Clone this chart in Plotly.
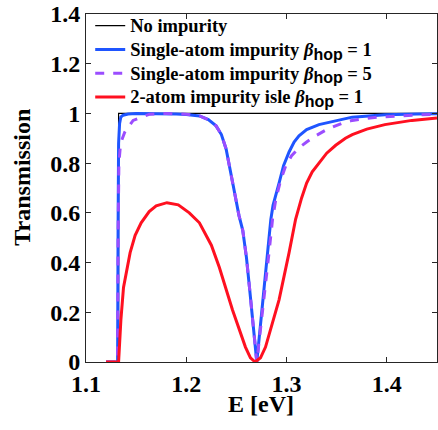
import plotly.graph_objects as go

# ---- data ----
E_none = [1.12, 1.1325, 1.1325, 1.45]
T_none = [0.0, 0.0, 1.0, 1.0]

E_single1 = [1.12, 1.1315, 1.132, 1.1325, 1.1335, 1.1347, 1.137, 1.142, 1.15, 1.17, 1.19, 1.2,
             1.2132, 1.222, 1.2297, 1.235, 1.2397, 1.2463, 1.2525, 1.2563, 1.26, 1.263, 1.2665,
             1.2703, 1.274, 1.2777, 1.281, 1.2843, 1.2865, 1.2895, 1.2925, 1.297, 1.3025,
             1.3075, 1.3124, 1.32, 1.3323, 1.3655, 1.398, 1.43, 1.45]
T_single1 = [0.0, 0.0, 0.55, 0.88, 0.96, 0.985, 0.993, 0.998, 1.0, 1.0, 0.998, 0.996,
             0.99, 0.975, 0.95, 0.915, 0.857, 0.72, 0.59, 0.53, 0.42, 0.30, 0.16,
             0.0, 0.15, 0.30, 0.44, 0.574, 0.63, 0.68, 0.72, 0.79, 0.845,
             0.885, 0.91, 0.935, 0.955, 0.985, 0.995, 0.998, 0.999]

E_single5 = [1.12, 1.1315, 1.132, 1.1328, 1.1345, 1.1387, 1.147, 1.1636, 1.18, 1.2,
             1.2132, 1.222, 1.2297, 1.235, 1.2397, 1.2463, 1.2525, 1.2563, 1.26, 1.263, 1.2665,
             1.2703, 1.2745, 1.2789, 1.2825, 1.286, 1.2893, 1.294, 1.2992, 1.305, 1.3124,
             1.32, 1.329, 1.34, 1.355, 1.3655, 1.39, 1.43, 1.45]
T_single5 = [0.0, 0.0, 0.5, 0.80, 0.88, 0.925, 0.972, 0.997, 1.0, 0.997,
             0.99, 0.975, 0.95, 0.915, 0.857, 0.72, 0.59, 0.53, 0.42, 0.30, 0.16,
             0.0, 0.15, 0.30, 0.44, 0.574, 0.655, 0.73, 0.79, 0.83, 0.862,
             0.885, 0.91, 0.935, 0.96, 0.972, 0.985, 0.994, 0.996]

E_isle = [1.12, 1.1325, 1.1348, 1.1374, 1.144, 1.149, 1.155, 1.163, 1.17, 1.1807, 1.192,
          1.203, 1.2131, 1.225, 1.233, 1.2461, 1.259, 1.264, 1.2687, 1.274, 1.279,
          1.2925, 1.3025, 1.309, 1.315, 1.32, 1.3256, 1.3323, 1.34, 1.349, 1.3587,
          1.3655, 1.38, 1.398, 1.425, 1.45]
T_isle = [0.0, 0.0, 0.17, 0.30, 0.44, 0.51, 0.56, 0.605, 0.628, 0.641, 0.632,
          0.60, 0.56, 0.47, 0.38, 0.209, 0.06, 0.017, 0.0, 0.017, 0.06,
          0.25, 0.44, 0.574, 0.66, 0.72, 0.765, 0.80, 0.84, 0.872, 0.90,
          0.915, 0.937, 0.955, 0.972, 0.982]

x_ticks = [1.1, 1.2, 1.3, 1.4]
x_tick_labels = ["1.1", "1.2", "1.3", "1.4"]
y_ticks = [0, 0.2, 0.4, 0.6, 0.8, 1.0, 1.2, 1.4]
y_tick_labels = ["0", "0.2", "0.4", "0.6", "0.8", "1", "1.2", "1.4"]

SUB = ("<sub><span style='font-family:Liberation Sans, Arial; font-weight:bold; "
       "font-size:16px'>hop</span></sub>")
legend_texts = [
    "No impurity",
    "Single-atom impurity <i>β</i>" + SUB + " = 1",
    "Single-atom impurity <i>β</i>" + SUB + " = 5",
    "2-atom impurity isle <i>β</i>" + SUB + " = 1",
]
names = ["<span style='font-size:18.5px'>" + t + "</span>" for t in legend_texts]

SERIF = "Liberation Serif, Times New Roman, serif"

fig = go.Figure()
fig.add_trace(go.Scatter(x=E_none, y=T_none, mode="lines", name=names[0],
                         line=dict(color="black", width=1.2)))
fig.add_trace(go.Scatter(x=E_single1, y=T_single1, mode="lines", name=names[1],
                         line=dict(color="#1f55ff", width=3)))
fig.add_trace(go.Scatter(x=E_single5, y=T_single5, mode="lines", name=names[2],
                         line=dict(color="#9b4dff", width=3, dash="dash")))
fig.add_trace(go.Scatter(x=E_isle, y=T_isle, mode="lines", name=names[3],
                         line=dict(color="#ff1020", width=3)))

axis_common = dict(showline=True, linecolor="#262626", linewidth=1, mirror="ticks",
                   ticks="inside", ticklen=5, tickcolor="#262626", showgrid=False,
                   zeroline=False,
                   tickfont=dict(family=SERIF, size=24, color="black", weight="bold"))

fig.update_layout(
    width=438, height=430,
    margin=dict(l=86, r=1, t=14, b=68),
    paper_bgcolor="white", plot_bgcolor="white",
    showlegend=True,
    legend=dict(x=0.012, y=1.015, xanchor="left", yanchor="top",
                bgcolor="rgba(0,0,0,0)", borderwidth=0,
                font=dict(family=SERIF, size=16, color="black", weight="bold"),
                tracegroupgap=0),
    xaxis=dict(range=[1.1, 1.45], tickvals=x_ticks, ticktext=x_tick_labels, **axis_common),
    yaxis=dict(range=[0, 1.4], tickvals=y_ticks, ticktext=y_tick_labels, **axis_common),
    annotations=[
        dict(text="<b>E [eV]</b>", xref="paper", yref="paper", x=0.4986, y=-0.12,
             xanchor="center", yanchor="middle", showarrow=False,
             font=dict(family=SERIF, size=24, color="black")),
        dict(text="<b>Transmission</b>", xref="paper", yref="paper", x=-0.185, y=0.53,
             xanchor="center", yanchor="middle", textangle=-90, showarrow=False,
             font=dict(family=SERIF, size=24, color="black")),
    ],
)

fig.write_html("out.html", config={"displayModeBar": False},
               post_script="document.body.style.margin='0';")
